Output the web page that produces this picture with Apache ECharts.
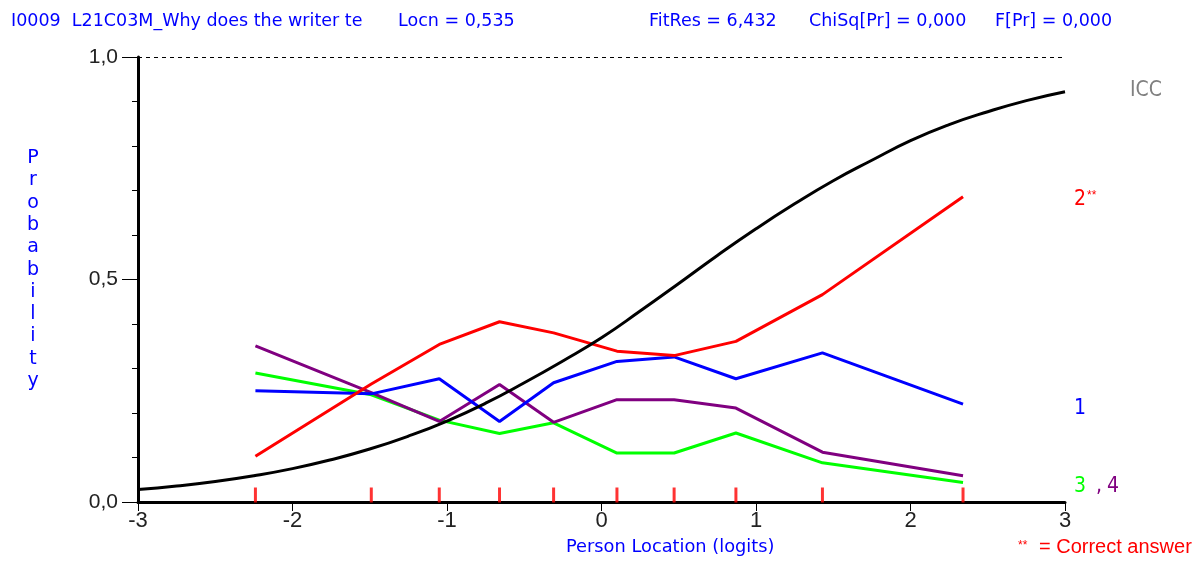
<!DOCTYPE html>
<html>
<head>
<meta charset="utf-8">
<script src="https://cdn.jsdelivr.net/npm/echarts@6/dist/echarts.min.js"></script>
<style>
  html, body { margin: 0; padding: 0; background: #ffffff; }
  #chart { width: 1199px; height: 562px; }
</style>
</head>
<body>
<div id="chart"></div>
<script>
// Class-interval mean locations (logits) of the ten person groups
const classMeans = [-2.24, -1.49, -1.05, -0.66, -0.31, 0.10, 0.47, 0.87, 1.43, 2.34];

// Observed proportion choosing each response option, per class interval
const option1 = [0.250, 0.243, 0.277, 0.181, 0.268, 0.316, 0.326, 0.277, 0.335, 0.220];
const option2 = [0.103, 0.265, 0.354, 0.405, 0.380, 0.339, 0.329, 0.361, 0.466, 0.686];
const option3 = [0.290, 0.241, 0.184, 0.154, 0.178, 0.110, 0.110, 0.155, 0.088, 0.044];
const option4 = [0.351, 0.246, 0.181, 0.264, 0.179, 0.230, 0.230, 0.211, 0.112, 0.059];

// Item characteristic curve, sampled along the person-location axis
const iccLocations = [-3, -2.75, -2.5, -2.25, -2, -1.75, -1.5, -1.25, -1, -0.75, -0.5, -0.25,
                      0, 0.25, 0.5, 0.75, 1, 1.25, 1.5, 1.75, 2, 2.25, 2.5, 2.75, 3];
const iccProbabilities = [0.028, 0.036, 0.046, 0.059, 0.075, 0.095, 0.119, 0.148, 0.182, 0.222,
                          0.268, 0.317, 0.369, 0.429, 0.491, 0.554, 0.614, 0.670, 0.722, 0.768,
                          0.812, 0.848, 0.877, 0.902, 0.922];

const headerTexts = ['I0009  L21C03M_Why does the writer te', 'Locn = 0,535',
                     'FitRes = 6,432', 'ChiSq[Pr] = 0,000', 'F[Pr] = 0,000'];
const xAxisTitle = 'Person Location (logits)';
const yAxisTitle = 'Probability';

const SANS = "'Liberation Sans', Arial, sans-serif";
const WIDE = "'DejaVu Sans', 'Liberation Sans', sans-serif";
const COND = "'DejaVu Sans Condensed', 'Liberation Sans', sans-serif";

const pairs = (xs, ys) => xs.map((x, i) => [x, ys[i]]);

function optionLine(name, values, color) {
  return {
    name: name,
    type: 'line',
    data: pairs(classMeans, values),
    showSymbol: false,
    symbol: 'none',
    smooth: false,
    lineStyle: { color: color, width: 3 },
    itemStyle: { color: color },
    z: 3
  };
}

const headerX = [11, 398, 649, 809, 995];

const chart = echarts.init(document.getElementById('chart'), null, { renderer: 'canvas' });

chart.setOption({
  animation: false,
  backgroundColor: '#ffffff',
  grid: { left: 138, right: 134, top: 57, bottom: 60, containLabel: false },
  xAxis: {
    type: 'value',
    min: -3,
    max: 3,
    interval: 1,
    axisLine: { show: true, onZero: false, lineStyle: { color: '#000', width: 3 } },
    axisTick: { show: true, length: 9, lineStyle: { color: '#000', width: 1 } },
    axisLabel: { color: '#222', fontSize: 22, fontFamily: SANS, margin: 8 },
    splitLine: { show: false }
  },
  yAxis: {
    type: 'value',
    min: 0,
    max: 1,
    interval: 0.5,
    axisLine: { show: true, onZero: false, lineStyle: { color: '#000', width: 3 } },
    axisTick: { show: true, length: 16, lineStyle: { color: '#000', width: 1 } },
    minorTick: { show: true, splitNumber: 5, length: 6, lineStyle: { color: '#000', width: 1 } },
    axisLabel: {
      color: '#222', fontSize: 21, fontFamily: SANS, margin: 20,
      formatter: v => v.toFixed(1).replace('.', ',')
    },
    splitLine: { show: false }
  },
  series: [
    optionLine('3', option3, '#00ff00'),
    optionLine('4', option4, '#800080'),
    optionLine('1', option1, '#0000ff'),
    optionLine('2', option2, '#ff0000'),
    {
      name: 'ICC',
      type: 'line',
      data: pairs(iccLocations, iccProbabilities),
      showSymbol: false,
      symbol: 'none',
      smooth: true,
      lineStyle: { color: '#000', width: 3 },
      z: 4,
      markLine: {
        silent: true,
        symbol: 'none',
        label: { show: false },
        lineStyle: { color: '#000', width: 1, type: [4, 4] },
        data: [{ yAxis: 1 }]
      }
    },
    {
      name: 'class intervals',
      type: 'scatter',
      data: classMeans.map(x => [x, 0]),
      symbol: 'rect',
      symbolSize: [3, 15],
      symbolOffset: [0, -7],
      itemStyle: { color: '#ff0000' },
      z: 2
    }
  ],
  graphic: [
    ...headerTexts.map((t, i) => ({
      type: 'text', left: headerX[i], top: 12,
      style: { text: t, fill: '#0000ff', font: '17.5px ' + WIDE }
    })),
    {
      type: 'text', left: 566, top: 538,
      style: { text: xAxisTitle, fill: '#0000ff', font: '17.8px ' + WIDE }
    },
    {
      type: 'text', x: 33, y: 147,
      style: {
        text: yAxisTitle.split('').join('\n'), fill: '#0000ff', font: '19px ' + WIDE,
        align: 'center', verticalAlign: 'top', lineHeight: 22.3
      }
    },
    {
      type: 'text', left: 1130, top: 80,
      style: { text: 'ICC', fill: '#808080', font: '21px ' + COND }
    },
    {
      type: 'text', left: 1074, top: 189,
      style: { text: '2', fill: '#ff0000', font: '21px ' + COND }
    },
    {
      type: 'text', left: 1087, top: 190,
      style: { text: '**', fill: '#ff0000', font: '12px ' + SANS }
    },
    {
      type: 'text', left: 1074, top: 398,
      style: { text: '1', fill: '#0000ff', font: '21px ' + COND }
    },
    {
      type: 'text', left: 1074, top: 476,
      style: { text: '3', fill: '#00ff00', font: '21px ' + COND }
    },
    {
      type: 'text', left: 1096, top: 476,
      style: { text: ',', fill: '#800080', font: '21px ' + COND }
    },
    {
      type: 'text', left: 1107, top: 476,
      style: { text: '4', fill: '#800080', font: '21px ' + COND }
    },
    {
      type: 'text', left: 1018, top: 540,
      style: { text: '**', fill: '#ff0000', font: '12px ' + SANS }
    },
    {
      type: 'text', left: 1039, top: 537,
      style: { text: '= Correct answer', fill: '#ff0000', font: '20px ' + SANS }
    }
  ]
});
</script>
</body>
</html>
